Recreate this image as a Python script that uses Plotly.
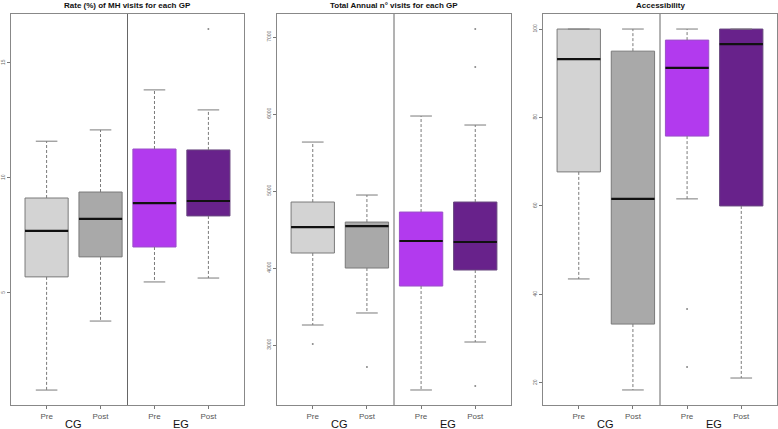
import plotly.graph_objects as go

# categories / groups
labels = ["Pre", "Post", "Pre", "Post"]
groups = ["CG", "EG"]
titles = ["Rate (%) of MH visits for each GP",
          "Total Annual n\u00b0 visits for each GP",
          "Accessibility"]
fills = ["#D3D3D3", "#A9A9A9", "#B23AEE", "#68228B"]
outlines = ["#7a7a7a", "#7a7a7a", "#9a50c8", "#6a4a80"]

# panel 1: rate (%) of MH visits
rate_low = [0.78, 3.78, 5.48, 5.65]
rate_q1 = [5.70, 6.57, 7.00, 8.35]
rate_med = [7.70, 8.22, 8.91, 9.00]
rate_q3 = [9.13, 9.39, 11.26, 11.22]
rate_high = [11.60, 12.09, 13.83, 12.96]
rate_out = [[], [], [], [16.48]]

# panel 2: total annual visits
vis_low = [3260, 3416, 2416, 3039]
vis_q1 = [4195, 4000, 3766, 3974]
vis_med = [4532, 4545, 4351, 4338]
vis_q3 = [4857, 4597, 4727, 4857]
vis_high = [5636, 4948, 5974, 5857]
vis_out = [[3013], [2714], [], [7104, 6610, 2468]]

# panel 3: accessibility
acc_low = [43.5, 18.4, 61.6, 21.1]
acc_q1 = [67.7, 33.3, 75.8, 60.0]
acc_med = [93.2, 61.6, 91.2, 96.6]
acc_q3 = [100, 95.0, 97.5, 100]
acc_high = [100, 100, 100, 100]
acc_out = [[], [], [36.7, 23.6], []]

panels = [
    (rate_low, rate_q1, rate_med, rate_q3, rate_high, rate_out, [0.13, 17.13], [5, 10, 15]),
    (vis_low, vis_q1, vis_med, vis_q3, vis_high, vis_out, [2221, 7299], [3000, 4000, 5000, 6000, 7000]),
    (acc_low, acc_q1, acc_med, acc_q3, acc_high, acc_out, [15.0, 103.4], [20, 40, 60, 80, 100]),
]

domains = [[11 / 778, 244 / 778], [277 / 778, 511 / 778], [543 / 778, 777 / 778]]
positions = [1, 2, 3, 4]
half_cap = 0.2
box_w = 0.8

fig = go.Figure()
layout = {}

for p, (low, q1, med, q3, high, outs, yr, yt) in enumerate(panels):
    n = "" if p == 0 else str(p + 1)
    xa, ya = "x" + n, "y" + n

    for i, x in enumerate(positions):
        # box without plotly whiskers
        fig.add_trace(go.Box(
            x=[x], q1=[q1[i]], median=[med[i]], q3=[q3[i]],
            lowerfence=[q1[i]], upperfence=[q3[i]],
            width=box_w, fillcolor=fills[i],
            line=dict(color=outlines[i], width=1),
            whiskerwidth=0, boxpoints=False, hoverinfo="skip",
            showlegend=False, xaxis=xa, yaxis=ya))
        # dashed whiskers
        for a, b in [(q3[i], high[i]), (q1[i], low[i])]:
            fig.add_trace(go.Scatter(
                x=[x, x], y=[a, b], mode="lines",
                line=dict(color="#7a7a7a", width=1, dash="3px,2px"),
                showlegend=False, hoverinfo="skip", xaxis=xa, yaxis=ya))
        # whisker caps
        for v in [low[i], high[i]]:
            fig.add_trace(go.Scatter(
                x=[x - half_cap, x + half_cap], y=[v, v], mode="lines",
                line=dict(color="#7a7a7a", width=1),
                showlegend=False, hoverinfo="skip", xaxis=xa, yaxis=ya))
        # median
        fig.add_trace(go.Scatter(
            x=[x - box_w / 2, x + box_w / 2], y=[med[i], med[i]], mode="lines",
            line=dict(color="#111111", width=2.2),
            showlegend=False, hoverinfo="skip", xaxis=xa, yaxis=ya))
        # outliers
        if outs[i]:
            fig.add_trace(go.Scatter(
                x=[x] * len(outs[i]), y=outs[i], mode="markers",
                marker=dict(color="#888888", size=2),
                showlegend=False, hoverinfo="skip", xaxis=xa, yaxis=ya))

    # group divider
    fig.add_trace(go.Scatter(
        x=[2.5, 2.5], y=yr, mode="lines",
        line=dict(color="#666666", width=1),
        showlegend=False, hoverinfo="skip", xaxis=xa, yaxis=ya))

    layout["xaxis" + n] = dict(
        domain=domains[p], range=[0.34, 4.66], anchor=ya, automargin=False,
        tickvals=positions, ticktext=labels, ticks="outside", ticklen=3,
        tickcolor="#777777", tickfont=dict(size=8, color="#555555"),
        showline=True, mirror=True, linecolor="#888888", linewidth=1,
        showgrid=False, zeroline=False)
    layout["yaxis" + n] = dict(
        domain=[0, 1], range=yr, anchor=xa, automargin=False,
        tickvals=yt, ticks="outside", ticklen=3, tickcolor="#777777",
        tickangle=-90, tickfont=dict(size=5, color="#666666"),
        showline=True, mirror=True, linecolor="#888888", linewidth=1,
        showgrid=False, zeroline=False)

annotations = []
for p in range(3):
    xc = (domains[p][0] + domains[p][1]) / 2
    annotations.append(dict(
        text="<b>" + titles[p] + "</b>", x=xc, y=1, xref="paper", yref="paper",
        xanchor="center", yanchor="middle", yshift=9, showarrow=False,
        font=dict(size=8, color="#111111")))
    n = "" if p == 0 else str(p + 1)
    for g, gx in zip(groups, [1.5, 3.5]):
        annotations.append(dict(
            text=g, x=gx, y=0, xref="x" + n, yref="paper",
            xanchor="center", yanchor="middle", yshift=-19,
            showarrow=False, font=dict(size=11, color="#111111")))

fig.update_layout(
    width=778, height=429,
    margin=dict(l=0, r=0, t=14, b=24),
    paper_bgcolor="white", plot_bgcolor="white",
    font=dict(family="Liberation Sans, Arial, sans-serif"),
    annotations=annotations,
    **layout)

# the page's default body margin would push the 778x429 figure off the window
fig.write_html("out.html", config={"displayModeBar": False},
               post_script="document.body.style.margin = '0';")
